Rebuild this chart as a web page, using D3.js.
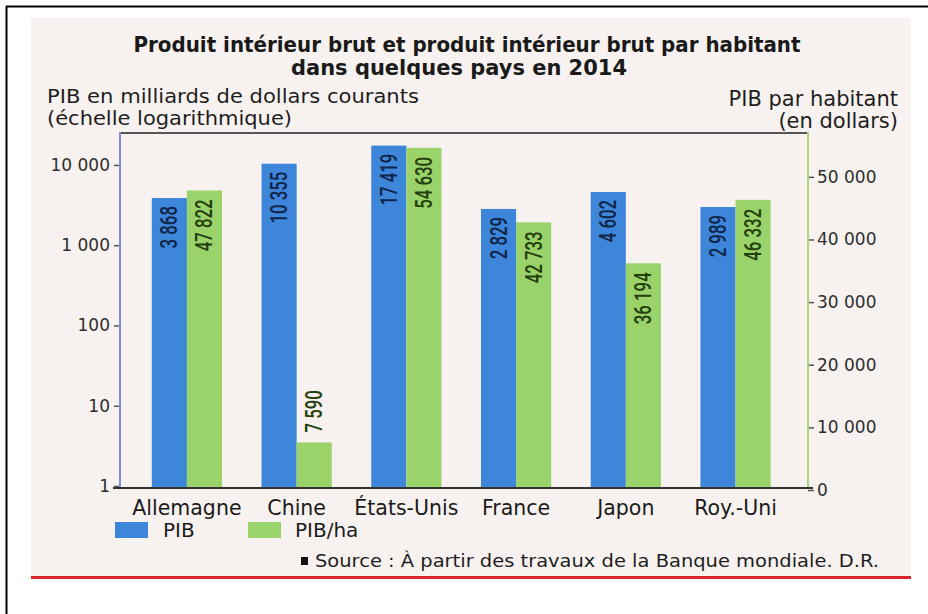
<!DOCTYPE html>
<html><head><meta charset="utf-8">
<script src="https://cdn.jsdelivr.net/npm/d3@7"></script>
<style>body{margin:0;background:#fff;} svg{display:block;}</style>
</head><body><svg id="c" width="928" height="614"></svg>
<script>
// ---- data ----
const countries = ["Allemagne", "Chine", "États-Unis", "France", "Japon", "Roy.-Uni"];
const pib = [3868, 10355, 17419, 2829, 4602, 2989];          // milliards $ (log scale)
const pibHab = [47822, 7590, 54630, 42733, 36194, 46332];    // $ par habitant
const leftTicks = [1, 10, 100, 1000, 10000];
const rightTicks = [0, 10000, 20000, 30000, 40000, 50000];
const seriesNames = ["PIB", "PIB/ha"];
const titleLines = ["Produit intérieur brut et produit intérieur brut par habitant", "dans quelques pays en 2014"];
const leftTitle = ["PIB en milliards de dollars courants", "(échelle logarithmique)"];
const rightTitle = ["PIB par habitant", "(en dollars)"];
const sourceText = "Source : À partir des travaux de la Banque mondiale. D.R.";

// ---- layout ----
const svg = d3.select("#c");
const P = {left: 120, right: 808, top: 133, bottom: 488};
const blue = "#3d86d9", green = "#9bd36b";
const fmt = d3.formatLocale({decimal: ",", thousands: " ", grouping: [3], currency: ["", ""]}).format(",");
const dv = "'DejaVu Sans', sans-serif";

// frame & background
svg.append("rect").attr("x", 31).attr("y", 18).attr("width", 880).attr("height", 559).attr("fill", "#f7f2ef");
svg.append("rect").attr("x", 31).attr("y", 576).attr("width", 880).attr("height", 3).attr("fill", "#d7262e");
svg.append("line").attr("x1", 6).attr("x2", 928).attr("y1", 6.5).attr("y2", 6.5).attr("stroke", "#000").attr("stroke-width", 2);
svg.append("line").attr("x1", 6.5).attr("x2", 6.5).attr("y1", 6).attr("y2", 614).attr("stroke", "#000").attr("stroke-width", 2);

// scales
const yL = d3.scaleLog().domain([1, 25000]).range([486, P.top]);
const yR = d3.scaleLinear().domain([0, 57000]).range([490, P.top]);
const x0 = d3.scaleBand().domain(countries).range([P.left, P.right]).paddingInner(0.36).paddingOuter(0.315).align(0.46);
const x1 = d3.scaleBand().domain(seriesNames).range([0, x0.bandwidth()]).padding(0);

// titles
const titleX = [467, 459], titleLen = [667, 336];
svg.selectAll(".title").data(titleLines).join("text")
  .attr("x", (d, i) => titleX[i]).attr("y", (d, i) => 52 + i * 23)
  .attr("text-anchor", "middle").attr("font-family", dv).attr("font-weight", 700)
  .attr("font-size", 21).attr("fill", "#1a1a1a")
  .attr("textLength", (d, i) => titleLen[i]).attr("lengthAdjust", "spacingAndGlyphs")
  .text(d => d);
const leftLen = [372, 245];
svg.selectAll(".ltitle").data(leftTitle).join("text")
  .attr("x", 47).attr("y", (d, i) => 103 + i * 22)
  .attr("font-family", dv).attr("font-size", 20).attr("fill", "#1e1e1e")
  .attr("textLength", (d, i) => leftLen[i]).attr("lengthAdjust", "spacingAndGlyphs")
  .text(d => d);
svg.selectAll(".rtitle").data(rightTitle).join("text")
  .attr("x", 898).attr("y", (d, i) => 106 + i * 22).attr("text-anchor", "end")
  .attr("font-family", dv).attr("font-size", 21).attr("fill", "#1e1e1e").text(d => d);

// bars
const g = svg.append("g");
const groups = g.selectAll("g.grp").data(countries).join("g")
  .attr("class", "grp").attr("transform", d => `translate(${x0(d)},0)`);
groups.append("rect")
  .attr("x", x1("PIB")).attr("width", x1.bandwidth())
  .attr("y", (d, i) => yL(pib[i])).attr("height", (d, i) => P.bottom - yL(pib[i]))
  .attr("fill", blue);
groups.append("rect")
  .attr("x", x1("PIB/ha")).attr("width", x1.bandwidth())
  .attr("y", (d, i) => yR(pibHab[i])).attr("height", (d, i) => P.bottom - yR(pibHab[i]))
  .attr("fill", green);

// value labels (rotated, condensed)
const vFont = "Roboto, sans-serif";
groups.append("text")
  .attr("transform", (d, i) => `translate(${x1("PIB") + x1.bandwidth() / 2 + 8},${yL(pib[i]) + 8}) rotate(-90) scale(0.73,1)`)
  .attr("text-anchor", "end").attr("font-family", vFont).attr("font-weight", 500).attr("font-size", 23)
  .attr("fill", "#10254a").text((d, i) => fmt(pib[i]));
groups.append("text")
  .attr("transform", (d, i) => {
    const y = yR(pibHab[i]);
    const inside = P.bottom - y > 60;
    return `translate(${x1("PIB/ha") + x1.bandwidth() / 2 + 8},${inside ? y + 9 : y - 10}) rotate(-90) scale(0.73,1)`;
  })
  .attr("text-anchor", (d, i) => (P.bottom - yR(pibHab[i]) > 60 ? "end" : "start"))
  .attr("font-family", vFont).attr("font-weight", 500).attr("font-size", 23)
  .attr("fill", "#25400e").text((d, i) => fmt(pibHab[i]));

// axes
const axL = svg.append("g").attr("transform", `translate(${P.left},0)`)
  .call(d3.axisLeft(yL).tickValues(leftTicks).tickFormat(fmt).tickSize(6).tickPadding(4));
const axR = svg.append("g").attr("transform", `translate(${P.right},0)`)
  .call(d3.axisRight(yR).tickValues(rightTicks).tickFormat(fmt).tickSize(6).tickPadding(3));
[axL, axR].forEach(a => {
  a.select(".domain").remove();
  a.selectAll(".tick line").attr("stroke", "#555").attr("stroke-width", 1.5);
  a.selectAll(".tick text").attr("font-family", dv).attr("font-size", 17).attr("fill", "#2e2e2e");
});

// plot frame lines
svg.append("line").attr("x1", P.left).attr("x2", P.right).attr("y1", P.top).attr("y2", P.top).attr("stroke", "#555").attr("stroke-width", 2);
svg.append("line").attr("x1", P.left).attr("x2", P.left).attr("y1", P.top - 1).attr("y2", P.bottom).attr("stroke", "#7f94d6").attr("stroke-width", 2);
svg.append("line").attr("x1", P.right).attr("x2", P.right).attr("y1", P.top - 1).attr("y2", P.bottom).attr("stroke", "#a9d67e").attr("stroke-width", 2);
svg.append("line").attr("x1", 113).attr("x2", 813).attr("y1", P.bottom).attr("y2", P.bottom).attr("stroke", "#333").attr("stroke-width", 2);

// category labels
svg.selectAll(".cat").data(countries).join("text")
  .attr("x", d => x0(d) + x0.bandwidth() / 2).attr("y", 515).attr("text-anchor", "middle")
  .attr("font-family", dv).attr("font-size", 20.5).attr("fill", "#1a1a1a").text(d => d);

// legend
const legX = [115, 248];
const leg = svg.selectAll(".leg").data(seriesNames).join("g").attr("transform", (d, i) => `translate(${legX[i]},522)`);
leg.append("rect").attr("width", 33).attr("height", 16).attr("fill", (d, i) => [blue, green][i]);
leg.append("text").attr("x", (d, i) => [48, 47][i]).attr("y", 15).attr("font-family", dv).attr("font-size", 20).attr("fill", "#1a1a1a").text(d => d);

// source
svg.append("rect").attr("x", 301).attr("y", 557).attr("width", 7).attr("height", 8).attr("fill", "#111");
svg.append("text").attr("x", 315).attr("y", 567).attr("font-family", dv).attr("font-size", 18)
  .attr("textLength", 564).attr("lengthAdjust", "spacingAndGlyphs").attr("fill", "#1e1e1e").text(sourceText);
</script></body></html>
